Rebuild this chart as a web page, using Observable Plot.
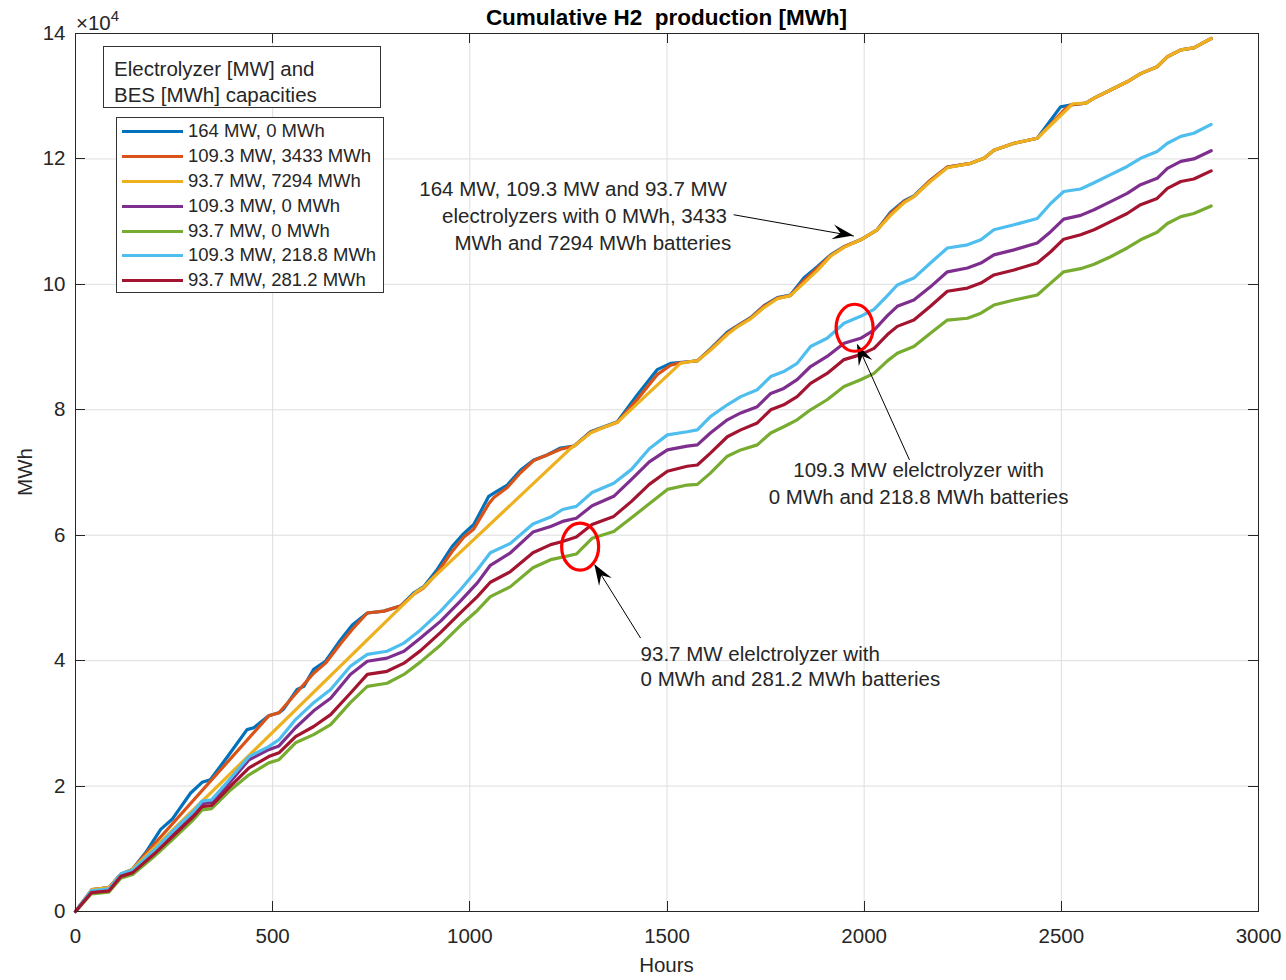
<!DOCTYPE html>
<html><head><meta charset="utf-8">
<script src="https://cdn.jsdelivr.net/npm/d3@7"></script>
<script src="https://cdn.jsdelivr.net/npm/@observablehq/plot@0.6"></script>
<style>
body{margin:0;background:#fff;}
#wrap{position:relative;width:1286px;height:980px;font-family:"Liberation Sans",Arial,Helvetica,sans-serif;color:#262626;}
#wrap svg{position:absolute;left:0;top:0;}
.ov{position:absolute;white-space:pre;line-height:1;}
#legTitle{position:absolute;left:103px;top:46px;width:278px;height:62px;border:1px solid #333;background:#fff;font-size:20.5px;line-height:26px;padding:9px 0 0 10px;box-sizing:border-box;}
#legBox{position:absolute;left:116px;top:117px;width:268px;height:176px;border:1px solid #333;background:#fff;box-sizing:border-box;padding-top:1px;font-size:18.5px;}
.row{height:24.9px;line-height:24.9px;position:relative;white-space:pre;}
.row .sw{position:absolute;left:5px;top:11px;width:61px;height:3px;}
.row .lb{position:absolute;left:71px;top:0;}
</style></head><body><div id="wrap"></div>
<script>
// ---------- data (values in units of 10^4 MWh) ----------
const seriesNames = ["164 MW, 0 MWh","109.3 MW, 3433 MWh","93.7 MW, 7294 MWh","109.3 MW, 0 MWh","93.7 MW, 0 MWh","109.3 MW, 218.8 MWh","93.7 MW, 281.2 MWh"];

// [hour, cumulative H2 (x10^4 MWh)]
const el164_bes0 = [[0,0],[42,0.35],[85,0.38],[114,0.59],[144,0.67],[178,0.94],[216,1.31],[245,1.47],[292,1.89],[321,2.06],[342,2.1],[389,2.5],[435,2.9],[452,2.93],[490,3.12],[516,3.17],[528,3.23],[562,3.54],[579,3.59],[604,3.86],[634,3.99],[672,4.33],[702,4.57],[740,4.76],[782,4.79],[824,4.87],[858,5.08],[883,5.18],[917,5.45],[955,5.82],[985,6.03],[1010,6.17],[1048,6.62],[1061,6.67],[1095,6.8],[1129,7.04],[1162,7.2],[1196,7.28],[1230,7.39],[1264,7.42],[1306,7.65],[1340,7.73],[1374,7.81],[1425,8.24],[1475,8.64],[1509,8.74],[1560,8.77],[1577,8.78],[1610,8.97],[1653,9.24],[1678,9.34],[1712,9.47],[1746,9.66],[1780,9.79],[1813,9.83],[1847,10.1],[1881,10.28],[1915,10.47],[1949,10.6],[1991,10.71],[2033,10.87],[2067,11.15],[2101,11.33],[2126,11.41],[2168,11.66],[2211,11.87],[2270,11.93],[2304,12.01],[2329,12.14],[2380,12.25],[2439,12.33],[2498,12.83],[2523,12.86],[2562,12.89],[2583,12.97],[2625,13.1],[2667,13.23],[2701,13.36],[2743,13.47],[2769,13.63],[2803,13.74],[2836,13.77],[2880,13.92]];

const el109_bes3433 = [[0,0],[42,0.35],[85,0.38],[114,0.59],[144,0.67],[178,0.92],[490,3.12],[516,3.17],[562,3.5],[604,3.8],[634,3.96],[672,4.27],[702,4.5],[740,4.76],[782,4.79],[824,4.87],[858,5.06],[883,5.16],[917,5.4],[955,5.74],[985,5.97],[1010,6.1],[1048,6.5],[1061,6.6],[1095,6.76],[1129,7.0],[1162,7.19],[1196,7.28],[1230,7.37],[1264,7.42],[1306,7.64],[1340,7.72],[1374,7.8],[1425,8.17],[1475,8.56],[1509,8.71],[1534,8.75],[1560,8.77],[1577,8.78],[1610,8.96],[1653,9.22],[1678,9.33],[1712,9.46],[1746,9.65],[1780,9.78],[1813,9.82],[1847,10.06],[1881,10.26],[1915,10.46],[1949,10.6],[1991,10.71],[2033,10.87],[2067,11.13],[2101,11.32],[2126,11.4],[2168,11.66],[2211,11.87],[2270,11.93],[2304,12.01],[2329,12.14],[2380,12.25],[2439,12.33],[2510,12.8],[2523,12.86],[2562,12.89],[2583,12.97],[2625,13.1],[2667,13.23],[2701,13.36],[2743,13.47],[2769,13.63],[2803,13.74],[2836,13.77],[2880,13.92]];

const el93_bes7294 = [[0,0],[42,0.35],[85,0.38],[114,0.59],[144,0.67],[865,5.1],[883,5.17],[900,5.28],[1255,7.38],[1264,7.42],[1306,7.63],[1340,7.72],[1374,7.8],[1534,8.74],[1560,8.77],[1577,8.78],[1610,8.95],[1653,9.2],[1678,9.32],[1712,9.45],[1746,9.63],[1780,9.77],[1813,9.82],[1847,10.02],[1881,10.22],[1915,10.45],[1949,10.59],[1991,10.71],[2033,10.87],[2067,11.1],[2101,11.3],[2126,11.4],[2168,11.64],[2211,11.86],[2270,11.93],[2304,12.01],[2329,12.14],[2380,12.25],[2439,12.33],[2529,12.88],[2562,12.89],[2583,12.97],[2625,13.1],[2667,13.23],[2701,13.36],[2743,13.47],[2769,13.63],[2803,13.74],[2836,13.77],[2880,13.92]];

const hoursLow = [0,40,85,115,145,200,250,300,321,345,390,440,490,516,558,604,647,697,740,790,833,875,926,976,1019,1052,1103,1160,1205,1235,1270,1310,1365,1410,1455,1501,1551,1577,1610,1653,1687,1729,1763,1796,1830,1864,1906,1949,1991,2025,2059,2084,2126,2168,2211,2262,2296,2329,2380,2439,2473,2506,2549,2583,2625,2667,2701,2743,2769,2803,2836,2880];
const el109_bes0 = [0,0.32,0.35,0.58,0.64,0.95,1.27,1.57,1.72,1.74,2.05,2.42,2.58,2.64,2.93,3.2,3.4,3.78,3.99,4.04,4.15,4.36,4.63,4.95,5.24,5.52,5.72,6.05,6.14,6.22,6.27,6.47,6.62,6.89,7.17,7.36,7.42,7.44,7.63,7.84,7.95,8.05,8.26,8.34,8.48,8.69,8.85,9.06,9.14,9.27,9.5,9.65,9.75,9.96,10.2,10.26,10.34,10.47,10.55,10.66,10.84,11.04,11.1,11.19,11.32,11.45,11.59,11.69,11.85,11.96,12.0,12.13];
const el93_bes0 = [0,0.28,0.31,0.53,0.59,0.88,1.17,1.47,1.62,1.64,1.92,2.18,2.37,2.42,2.69,2.82,2.98,3.33,3.59,3.64,3.78,3.98,4.25,4.56,4.8,5.02,5.18,5.48,5.61,5.65,5.7,5.95,6.06,6.28,6.5,6.73,6.8,6.81,6.99,7.26,7.36,7.44,7.63,7.73,7.84,8.0,8.16,8.37,8.48,8.58,8.78,8.9,9.01,9.22,9.43,9.46,9.54,9.67,9.75,9.83,10.02,10.2,10.25,10.32,10.44,10.58,10.71,10.83,10.97,11.08,11.13,11.25];
const el109_bes218 = [0,0.33,0.36,0.6,0.66,0.98,1.3,1.6,1.76,1.78,2.1,2.47,2.63,2.74,3.06,3.33,3.54,3.91,4.1,4.15,4.28,4.49,4.79,5.13,5.45,5.72,5.87,6.18,6.29,6.41,6.46,6.68,6.83,7.05,7.38,7.6,7.65,7.68,7.89,8.08,8.21,8.32,8.53,8.61,8.74,9.01,9.14,9.38,9.49,9.6,9.82,9.99,10.1,10.34,10.58,10.63,10.71,10.87,10.95,11.05,11.29,11.48,11.52,11.62,11.75,11.88,12.01,12.12,12.25,12.36,12.41,12.55];
const el93_bes281 = [0,0.3,0.33,0.56,0.62,0.92,1.22,1.52,1.67,1.69,1.98,2.29,2.47,2.53,2.79,2.95,3.14,3.48,3.78,3.83,3.96,4.16,4.45,4.76,5.02,5.25,5.42,5.72,5.85,5.9,5.97,6.17,6.3,6.54,6.81,7.02,7.1,7.12,7.31,7.57,7.68,7.79,8.0,8.08,8.21,8.42,8.58,8.8,8.88,8.98,9.2,9.33,9.43,9.65,9.89,9.94,10.02,10.15,10.23,10.34,10.52,10.72,10.79,10.87,11.0,11.13,11.27,11.37,11.53,11.64,11.68,11.81];

const xTicks = [0,500,1000,1500,2000,2500,3000];
const yTicks = [0,2,4,6,8,10,12,14];

const noteText = [
  {hour:1652, mwh:11.52, text:"164 MW, 109.3 MW and 93.7 MW", align:"end"},
  {hour:1652, mwh:11.08, text:"electrolyzers with 0 MWh, 3433", align:"end"},
  {hour:1663, mwh:10.66, text:"MWh and 7294 MWh batteries", align:"end"},
  {hour:2138, mwh:7.03, text:"109.3 MW elelctrolyzer with", align:"middle"},
  {hour:2138, mwh:6.61, text:"0 MWh and 218.8 MWh batteries", align:"middle"},
  {hour:1433, mwh:4.10, text:"93.7 MW elelctrolyzer with", align:"start"},
  {hour:1433, mwh:3.70, text:"0 MWh and 281.2 MWh batteries", align:"start"}
];
const noteArrows = [
  {fromHour:1669, fromMwh:11.11, toHour:1974, toMwh:10.77},
  {fromHour:2115, fromMwh:7.20, toHour:1983, toMwh:9.04},
  {fromHour:1433, fromMwh:4.36, toHour:1317, toMwh:5.53}
];
const noteRings = [
  {hour:1977, mwh:9.30},
  {hour:1281, mwh:5.81}
];

// ---------- styles ----------
const colors = ["#0072BD","#D95319","#EDB120","#7E2F8E","#77AC30","#4DBEEE","#A2142F"];
const FONT = '"Liberation Sans", Arial, Helvetica, sans-serif';
const INK = "#262626";

// build series tables
const lowSets = [el109_bes0, el93_bes0, el109_bes218, el93_bes281];
const seriesData = [el164_bes0, el109_bes3433, el93_bes7294,
  ...lowSets.map(vals => hoursLow.map((h, i) => [h, vals[i]]))];

const lineMarks = seriesData.map((pts, i) => Plot.line(pts, {
  x: d => d[0], y: d => d[1], stroke: colors[i], strokeWidth: 3.2,
  strokeLinejoin: "round", strokeLinecap: "round"
}));

const plot = Plot.plot({
  width: 1286, height: 980,
  marginLeft: 75, marginRight: 28, marginTop: 33, marginBottom: 69,
  x: {domain: [0, 3000], label: null},
  y: {domain: [0, 14], label: null},
  style: {fontFamily: FONT, fontSize: "20.5px", color: INK, background: "transparent", overflow: "visible"},
  marks: [
    Plot.gridX(xTicks, {stroke: "#dedede", strokeOpacity: 1}),
    Plot.gridY(yTicks, {stroke: "#dedede", strokeOpacity: 1}),
    ...lineMarks,
    Plot.frame({stroke: INK}),
    Plot.axisX(xTicks, {anchor: "bottom", tickSize: 0, tickPadding: 17, label: null, fill: INK, tickFormat: d => String(d)}),
    Plot.axisY(yTicks, {anchor: "left", tickSize: 0, tickPadding: 10, label: null, fill: INK, tickFormat: d => String(d)}),
    Plot.link(noteArrows, {x1: "fromHour", y1: "fromMwh", x2: "toHour", y2: "toMwh", stroke: "#000", strokeWidth: 1}),
    ...["start","middle","end"].map(a => Plot.text(noteText.filter(d => d.align === a), {
      x: "hour", y: "mwh", text: "text", textAnchor: a, fontSize: 20.5, fill: INK
    }))
  ]
});

const wrap = document.getElementById("wrap");
wrap.appendChild(plot);

const sx = plot.scale("x"), sy = plot.scale("y");
const g = d3.select(plot).append("g");

// inward tick marks on all four sides (MATLAB box style), placed through the scales
const TL = 10;
const [xl, xr] = [sx.apply(0), sx.apply(3000)];
const [yb, yt] = [sy.apply(0), sy.apply(14)];
xTicks.forEach(t => {
  const x = Math.round(sx.apply(t)) + 0.5;
  g.append("line").attr("x1", x).attr("x2", x).attr("y1", yb).attr("y2", yb - TL).attr("stroke", INK);
  g.append("line").attr("x1", x).attr("x2", x).attr("y1", yt).attr("y2", yt + TL).attr("stroke", INK);
});
yTicks.forEach(t => {
  const y = Math.round(sy.apply(t)) + 0.5;
  g.append("line").attr("y1", y).attr("y2", y).attr("x1", xl).attr("x2", xl + TL).attr("stroke", INK);
  g.append("line").attr("y1", y).attr("y2", y).attr("x1", xr).attr("x2", xr - TL).attr("stroke", INK);
});

// arrowheads and red rings positioned through the plot's scales
noteArrows.forEach(a => {
  const x1 = sx.apply(a.fromHour), y1 = sy.apply(a.fromMwh);
  const x2 = sx.apply(a.toHour), y2 = sy.apply(a.toMwh);
  const len = Math.hypot(x2 - x1, y2 - y1);
  const ux = (x2 - x1) / len, uy = (y2 - y1) / len, nx = -uy, ny = ux;
  const L = 21, Wd = 7.5, N = 0.62;
  const pts = [
    [x2, y2],
    [x2 - L*ux + Wd*nx, y2 - L*uy + Wd*ny],
    [x2 - N*L*ux, y2 - N*L*uy],
    [x2 - L*ux - Wd*nx, y2 - L*uy - Wd*ny]
  ];
  g.append("path").attr("d", "M" + pts.map(p => p.join(",")).join("L") + "Z").attr("fill", "#000");
});
noteRings.forEach(r => {
  g.append("ellipse").attr("cx", sx.apply(r.hour)).attr("cy", sy.apply(r.mwh))
    .attr("rx", 18.5).attr("ry", 23.5).attr("fill", "none").attr("stroke", "#FF0000").attr("stroke-width", 3.2);
});

// overlays: title, axis labels, exponent, legend
function ov(html, css) {
  const d = document.createElement("div");
  d.className = "ov"; d.innerHTML = html; Object.assign(d.style, css);
  wrap.appendChild(d); return d;
}
ov("Cumulative H2  production [MWh]", {left: "75px", width: "1183px", textAlign: "center", top: "7px", fontSize: "22.5px", fontWeight: "bold", color: "#000"});
ov("Hours", {left: "75px", width: "1183px", textAlign: "center", top: "955px", fontSize: "20.5px"});
ov("MWh", {left: "25px", top: "472px", fontSize: "20.5px", transform: "translate(-50%,-50%) rotate(-90deg)"});
ov('\u00d710<span style="font-size:15px;position:relative;top:-9px;">4</span>', {left: "76px", top: "13px", fontSize: "20.5px"});

const lt = document.createElement("div");
lt.id = "legTitle"; lt.innerHTML = "Electrolyzer [MW] and<br>BES [MWh] capacities";
wrap.appendChild(lt);
const lb = document.createElement("div");
lb.id = "legBox";
seriesNames.forEach((n, i) => {
  const row = document.createElement("div"); row.className = "row";
  row.innerHTML = `<div class="sw" style="background:${colors[i]}"></div><div class="lb">${n}</div>`;
  lb.appendChild(row);
});
wrap.appendChild(lb);
</script></body></html>
